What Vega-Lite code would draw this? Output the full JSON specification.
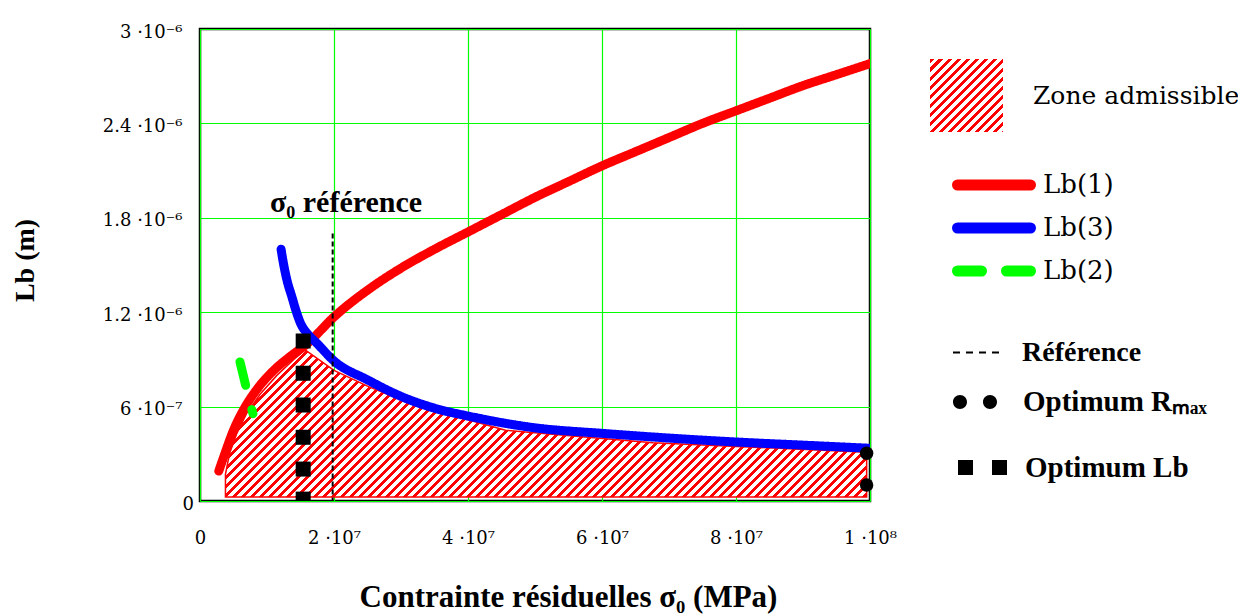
{
  "$schema": "https://vega.github.io/schema/vega-lite/v6.json",
  "width": 670,
  "height": 472,
  "autosize": {"type": "none"},
  "padding": {"left": 200, "top": 29, "right": 368, "bottom": 113},
  "background": "white",
  "config": {
    "font": "Liberation Serif",
    "view": {"stroke": "black", "strokeWidth": 2.5},
    "axis": {
      "labelFont": "DejaVu Serif", "labelFontSize": 18, "labelColor": "black",
      "titleFont": "Liberation Serif", "titleFontWeight": "bold", "titleColor": "black",
      "grid": true, "gridColor": "#00ff00", "gridWidth": 1.2, "gridOpacity": 1,
      "domain": false, "ticks": false, "tickSize": 0, "labelFlush": false, "labelOverlap": false
    },
    "legend": {"labelFont": "DejaVu Serif", "labelColor": "black", "labelLimit": 400, "padding": 0}
  },
  "datasets": {
    "zone": [
      {"s": 3800000, "L": 1.7e-7, "L0": 2.5e-8, "label": "Zone admissible"},
      {"s": 4400000, "L": 3.0e-7, "L0": 2.5e-8, "label": "Zone admissible"},
      {"s": 5500000, "L": 4.3e-7, "L0": 2.5e-8, "label": "Zone admissible"},
      {"s": 7000000, "L": 5.6e-7, "L0": 2.5e-8, "label": "Zone admissible"},
      {"s": 9000000, "L": 6.8e-7, "L0": 2.5e-8, "label": "Zone admissible"},
      {"s": 11500000, "L": 8.0e-7, "L0": 2.5e-8, "label": "Zone admissible"},
      {"s": 14000000, "L": 9.0e-7, "L0": 2.5e-8, "label": "Zone admissible"},
      {"s": 15700000, "L": 9.6e-7, "L0": 2.5e-8, "label": "Zone admissible"},
      {"s": 20000000, "L": 8.3e-7, "L0": 2.5e-8, "label": "Zone admissible"},
      {"s": 25000000, "L": 7.3e-7, "L0": 2.5e-8, "label": "Zone admissible"},
      {"s": 31300000, "L": 6.2e-7, "L0": 2.5e-8, "label": "Zone admissible"},
      {"s": 45600000, "L": 4.5e-7, "L0": 2.5e-8, "label": "Zone admissible"},
      {"s": 67600000, "L": 3.7e-7, "L0": 2.5e-8, "label": "Zone admissible"},
      {"s": 99500000, "L": 3.1e-7, "L0": 2.5e-8, "label": "Zone admissible"}
    ],
    "lines": [
      {"series": "Lb(1)", "s": 2800000, "L": 1.9e-7},
      {"series": "Lb(1)", "s": 3700000, "L": 3.0e-7},
      {"series": "Lb(1)", "s": 5000000, "L": 4.5e-7},
      {"series": "Lb(1)", "s": 6500000, "L": 5.8e-7},
      {"series": "Lb(1)", "s": 8500000, "L": 7.1e-7},
      {"series": "Lb(1)", "s": 11000000, "L": 8.3e-7},
      {"series": "Lb(1)", "s": 13500000, "L": 9.2e-7},
      {"series": "Lb(1)", "s": 16000000, "L": 1.0e-6},
      {"series": "Lb(1)", "s": 20000000, "L": 1.17e-6},
      {"series": "Lb(1)", "s": 25500000, "L": 1.355e-6},
      {"series": "Lb(1)", "s": 30000000, "L": 1.48e-6},
      {"series": "Lb(1)", "s": 35000000, "L": 1.6e-6},
      {"series": "Lb(1)", "s": 40000000, "L": 1.71e-6},
      {"series": "Lb(1)", "s": 45000000, "L": 1.82e-6},
      {"series": "Lb(1)", "s": 50000000, "L": 1.93e-6},
      {"series": "Lb(1)", "s": 55000000, "L": 2.03e-6},
      {"series": "Lb(1)", "s": 60000000, "L": 2.13e-6},
      {"series": "Lb(1)", "s": 65000000, "L": 2.22e-6},
      {"series": "Lb(1)", "s": 70000000, "L": 2.31e-6},
      {"series": "Lb(1)", "s": 75000000, "L": 2.4e-6},
      {"series": "Lb(1)", "s": 80000000, "L": 2.48e-6},
      {"series": "Lb(1)", "s": 85000000, "L": 2.56e-6},
      {"series": "Lb(1)", "s": 90000000, "L": 2.64e-6},
      {"series": "Lb(1)", "s": 95000000, "L": 2.71e-6},
      {"series": "Lb(1)", "s": 100000000, "L": 2.78e-6},
      {"series": "Lb(3)", "s": 12100000, "L": 1.6e-6},
      {"series": "Lb(3)", "s": 12500000, "L": 1.5e-6},
      {"series": "Lb(3)", "s": 13000000, "L": 1.4e-6},
      {"series": "Lb(3)", "s": 13700000, "L": 1.3e-6},
      {"series": "Lb(3)", "s": 14400000, "L": 1.2e-6},
      {"series": "Lb(3)", "s": 15000000, "L": 1.13e-6},
      {"series": "Lb(3)", "s": 16000000, "L": 1.065e-6},
      {"series": "Lb(3)", "s": 17500000, "L": 1.0e-6},
      {"series": "Lb(3)", "s": 20000000, "L": 8.9e-7},
      {"series": "Lb(3)", "s": 25000000, "L": 7.7e-7},
      {"series": "Lb(3)", "s": 30000000, "L": 6.65e-7},
      {"series": "Lb(3)", "s": 35000000, "L": 5.9e-7},
      {"series": "Lb(3)", "s": 40000000, "L": 5.4e-7},
      {"series": "Lb(3)", "s": 50000000, "L": 4.65e-7},
      {"series": "Lb(3)", "s": 60000000, "L": 4.3e-7},
      {"series": "Lb(3)", "s": 70000000, "L": 4.0e-7},
      {"series": "Lb(3)", "s": 80000000, "L": 3.75e-7},
      {"series": "Lb(3)", "s": 90000000, "L": 3.55e-7},
      {"series": "Lb(3)", "s": 100000000, "L": 3.35e-7},
      {"series": "Lb(2)", "s": 5970000, "L": 8.84e-7},
      {"series": "Lb(2)", "s": 6900000, "L": 7.2e-7},
      {"series": "Lb(2)", "s": 7900000, "L": 5.55e-7}
    ],
    "ref": [{"s": 19800000, "L": 1.7e-6, "L0": 0, "label": "Référence"}],
    "note": [{"s": 21800000, "L": 1.894e-6, "t": "σ₀ référence"}],
    "rmax": [
      {"s": 99500000, "L": 3.03e-7, "label": "Optimum Rₘₐₓ"},
      {"s": 99500000, "L": 1.02e-7, "label": "Optimum Rₘₐₓ"}
    ],
    "lbopt": [
      {"s": 15400000, "L": 1.017e-6, "label": "Optimum Lb"},
      {"s": 15400000, "L": 8.12e-7, "label": "Optimum Lb"},
      {"s": 15400000, "L": 6.1e-7, "label": "Optimum Lb"},
      {"s": 15400000, "L": 4.05e-7, "label": "Optimum Lb"},
      {"s": 15400000, "L": 2.03e-7, "label": "Optimum Lb"},
      {"s": 15400000, "L": 1.2e-8, "label": "Optimum Lb"}
    ]
  },
  "resolve": {"scale": {"opacity": "independent"}},
  "encoding": {
    "x": {
      "field": "s", "type": "quantitative",
      "scale": {"domain": [0, 100000000], "nice": false, "zero": false},
      "axis": {
        "title": "Contrainte résiduelles σ₀ (MPa)", "titleFontSize": 31,
        "titleX": 368, "titleY": 96, "titleBaseline": "middle", "titleAlign": "center",
        "values": [0, 20000000, 40000000, 60000000, 80000000, 100000000],
        "labelExpr": "datum.value == 0 ? '0' : datum.value < 30000000 ? '2 ·10⁷' : datum.value < 50000000 ? '4 ·10⁷' : datum.value < 70000000 ? '6 ·10⁷' : datum.value < 90000000 ? '8 ·10⁷' : '1 ·10⁸'",
        "labelPadding": 28, "labelBaseline": "top"
      }
    },
    "y": {
      "field": "L", "type": "quantitative",
      "scale": {"domain": [0, 0.000003], "nice": false, "zero": false},
      "axis": {
        "title": "Lb (m)", "titleFontSize": 28,
        "titleX": -175, "titleY": 231, "titleBaseline": "middle", "titleAlign": "center",
        "values": [0, 6e-7, 1.2e-6, 1.8e-6, 2.4e-6, 3e-6],
        "labelExpr": "datum.value == 0 ? '0' : datum.value < 9e-7 ? '6 ·10⁻⁷' : datum.value < 1.5e-6 ? '1.2 ·10⁻⁶' : datum.value < 2.1e-6 ? '1.8 ·10⁻⁶' : datum.value < 2.7e-6 ? '2.4 ·10⁻⁶' : '3 ·10⁻⁶'",
        "labelPadding": 18, "labelOffset": 3,
        "labelAlign": {"condition": {"test": "datum.value === 0", "value": "left"}, "value": "right"}
      }
    }
  },
  "layer": [
    {
      "data": {"name": "zone"},
      "mark": {
        "type": "area", "stroke": "#ff0000", "strokeWidth": 1.5, "clip": true,
        "fill": {"gradient": "linear", "x1": 0, "y1": 0, "x2": 1.2002, "y2": 0.2752, "stops": [
{"offset":0,"color":"red"},{"offset":0.005,"color":"red"},{"offset":0.005,"color":"white"},{"offset":0.01111,"color":"white"},
{"offset":0.01111,"color":"red"},{"offset":0.01611,"color":"red"},{"offset":0.01611,"color":"white"},{"offset":0.02222,"color":"white"},
{"offset":0.02222,"color":"red"},{"offset":0.02722,"color":"red"},{"offset":0.02722,"color":"white"},{"offset":0.03333,"color":"white"},
{"offset":0.03333,"color":"red"},{"offset":0.03833,"color":"red"},{"offset":0.03833,"color":"white"},{"offset":0.04444,"color":"white"},
{"offset":0.04444,"color":"red"},{"offset":0.04944,"color":"red"},{"offset":0.04944,"color":"white"},{"offset":0.05556,"color":"white"},
{"offset":0.05556,"color":"red"},{"offset":0.06056,"color":"red"},{"offset":0.06056,"color":"white"},{"offset":0.06667,"color":"white"},
{"offset":0.06667,"color":"red"},{"offset":0.07167,"color":"red"},{"offset":0.07167,"color":"white"},{"offset":0.07778,"color":"white"},
{"offset":0.07778,"color":"red"},{"offset":0.08278,"color":"red"},{"offset":0.08278,"color":"white"},{"offset":0.08889,"color":"white"},
{"offset":0.08889,"color":"red"},{"offset":0.09389,"color":"red"},{"offset":0.09389,"color":"white"},{"offset":0.1,"color":"white"},
{"offset":0.1,"color":"red"},{"offset":0.105,"color":"red"},{"offset":0.105,"color":"white"},{"offset":0.11111,"color":"white"},
{"offset":0.11111,"color":"red"},{"offset":0.11611,"color":"red"},{"offset":0.11611,"color":"white"},{"offset":0.12222,"color":"white"},
{"offset":0.12222,"color":"red"},{"offset":0.12722,"color":"red"},{"offset":0.12722,"color":"white"},{"offset":0.13333,"color":"white"},
{"offset":0.13333,"color":"red"},{"offset":0.13833,"color":"red"},{"offset":0.13833,"color":"white"},{"offset":0.14444,"color":"white"},
{"offset":0.14444,"color":"red"},{"offset":0.14944,"color":"red"},{"offset":0.14944,"color":"white"},{"offset":0.15556,"color":"white"},
{"offset":0.15556,"color":"red"},{"offset":0.16056,"color":"red"},{"offset":0.16056,"color":"white"},{"offset":0.16667,"color":"white"},
{"offset":0.16667,"color":"red"},{"offset":0.17167,"color":"red"},{"offset":0.17167,"color":"white"},{"offset":0.17778,"color":"white"},
{"offset":0.17778,"color":"red"},{"offset":0.18278,"color":"red"},{"offset":0.18278,"color":"white"},{"offset":0.18889,"color":"white"},
{"offset":0.18889,"color":"red"},{"offset":0.19389,"color":"red"},{"offset":0.19389,"color":"white"},{"offset":0.2,"color":"white"},
{"offset":0.2,"color":"red"},{"offset":0.205,"color":"red"},{"offset":0.205,"color":"white"},{"offset":0.21111,"color":"white"},
{"offset":0.21111,"color":"red"},{"offset":0.21611,"color":"red"},{"offset":0.21611,"color":"white"},{"offset":0.22222,"color":"white"},
{"offset":0.22222,"color":"red"},{"offset":0.22722,"color":"red"},{"offset":0.22722,"color":"white"},{"offset":0.23333,"color":"white"},
{"offset":0.23333,"color":"red"},{"offset":0.23833,"color":"red"},{"offset":0.23833,"color":"white"},{"offset":0.24444,"color":"white"},
{"offset":0.24444,"color":"red"},{"offset":0.24944,"color":"red"},{"offset":0.24944,"color":"white"},{"offset":0.25556,"color":"white"},
{"offset":0.25556,"color":"red"},{"offset":0.26056,"color":"red"},{"offset":0.26056,"color":"white"},{"offset":0.26667,"color":"white"},
{"offset":0.26667,"color":"red"},{"offset":0.27167,"color":"red"},{"offset":0.27167,"color":"white"},{"offset":0.27778,"color":"white"},
{"offset":0.27778,"color":"red"},{"offset":0.28278,"color":"red"},{"offset":0.28278,"color":"white"},{"offset":0.28889,"color":"white"},
{"offset":0.28889,"color":"red"},{"offset":0.29389,"color":"red"},{"offset":0.29389,"color":"white"},{"offset":0.3,"color":"white"},
{"offset":0.3,"color":"red"},{"offset":0.305,"color":"red"},{"offset":0.305,"color":"white"},{"offset":0.31111,"color":"white"},
{"offset":0.31111,"color":"red"},{"offset":0.31611,"color":"red"},{"offset":0.31611,"color":"white"},{"offset":0.32222,"color":"white"},
{"offset":0.32222,"color":"red"},{"offset":0.32722,"color":"red"},{"offset":0.32722,"color":"white"},{"offset":0.33333,"color":"white"},
{"offset":0.33333,"color":"red"},{"offset":0.33833,"color":"red"},{"offset":0.33833,"color":"white"},{"offset":0.34444,"color":"white"},
{"offset":0.34444,"color":"red"},{"offset":0.34944,"color":"red"},{"offset":0.34944,"color":"white"},{"offset":0.35556,"color":"white"},
{"offset":0.35556,"color":"red"},{"offset":0.36056,"color":"red"},{"offset":0.36056,"color":"white"},{"offset":0.36667,"color":"white"},
{"offset":0.36667,"color":"red"},{"offset":0.37167,"color":"red"},{"offset":0.37167,"color":"white"},{"offset":0.37778,"color":"white"},
{"offset":0.37778,"color":"red"},{"offset":0.38278,"color":"red"},{"offset":0.38278,"color":"white"},{"offset":0.38889,"color":"white"},
{"offset":0.38889,"color":"red"},{"offset":0.39389,"color":"red"},{"offset":0.39389,"color":"white"},{"offset":0.4,"color":"white"},
{"offset":0.4,"color":"red"},{"offset":0.405,"color":"red"},{"offset":0.405,"color":"white"},{"offset":0.41111,"color":"white"},
{"offset":0.41111,"color":"red"},{"offset":0.41611,"color":"red"},{"offset":0.41611,"color":"white"},{"offset":0.42222,"color":"white"},
{"offset":0.42222,"color":"red"},{"offset":0.42722,"color":"red"},{"offset":0.42722,"color":"white"},{"offset":0.43333,"color":"white"},
{"offset":0.43333,"color":"red"},{"offset":0.43833,"color":"red"},{"offset":0.43833,"color":"white"},{"offset":0.44444,"color":"white"},
{"offset":0.44444,"color":"red"},{"offset":0.44944,"color":"red"},{"offset":0.44944,"color":"white"},{"offset":0.45556,"color":"white"},
{"offset":0.45556,"color":"red"},{"offset":0.46056,"color":"red"},{"offset":0.46056,"color":"white"},{"offset":0.46667,"color":"white"},
{"offset":0.46667,"color":"red"},{"offset":0.47167,"color":"red"},{"offset":0.47167,"color":"white"},{"offset":0.47778,"color":"white"},
{"offset":0.47778,"color":"red"},{"offset":0.48278,"color":"red"},{"offset":0.48278,"color":"white"},{"offset":0.48889,"color":"white"},
{"offset":0.48889,"color":"red"},{"offset":0.49389,"color":"red"},{"offset":0.49389,"color":"white"},{"offset":0.5,"color":"white"},
{"offset":0.5,"color":"red"},{"offset":0.505,"color":"red"},{"offset":0.505,"color":"white"},{"offset":0.51111,"color":"white"},
{"offset":0.51111,"color":"red"},{"offset":0.51611,"color":"red"},{"offset":0.51611,"color":"white"},{"offset":0.52222,"color":"white"},
{"offset":0.52222,"color":"red"},{"offset":0.52722,"color":"red"},{"offset":0.52722,"color":"white"},{"offset":0.53333,"color":"white"},
{"offset":0.53333,"color":"red"},{"offset":0.53833,"color":"red"},{"offset":0.53833,"color":"white"},{"offset":0.54444,"color":"white"},
{"offset":0.54444,"color":"red"},{"offset":0.54944,"color":"red"},{"offset":0.54944,"color":"white"},{"offset":0.55556,"color":"white"},
{"offset":0.55556,"color":"red"},{"offset":0.56056,"color":"red"},{"offset":0.56056,"color":"white"},{"offset":0.56667,"color":"white"},
{"offset":0.56667,"color":"red"},{"offset":0.57167,"color":"red"},{"offset":0.57167,"color":"white"},{"offset":0.57778,"color":"white"},
{"offset":0.57778,"color":"red"},{"offset":0.58278,"color":"red"},{"offset":0.58278,"color":"white"},{"offset":0.58889,"color":"white"},
{"offset":0.58889,"color":"red"},{"offset":0.59389,"color":"red"},{"offset":0.59389,"color":"white"},{"offset":0.6,"color":"white"},
{"offset":0.6,"color":"red"},{"offset":0.605,"color":"red"},{"offset":0.605,"color":"white"},{"offset":0.61111,"color":"white"},
{"offset":0.61111,"color":"red"},{"offset":0.61611,"color":"red"},{"offset":0.61611,"color":"white"},{"offset":0.62222,"color":"white"},
{"offset":0.62222,"color":"red"},{"offset":0.62722,"color":"red"},{"offset":0.62722,"color":"white"},{"offset":0.63333,"color":"white"},
{"offset":0.63333,"color":"red"},{"offset":0.63833,"color":"red"},{"offset":0.63833,"color":"white"},{"offset":0.64444,"color":"white"},
{"offset":0.64444,"color":"red"},{"offset":0.64944,"color":"red"},{"offset":0.64944,"color":"white"},{"offset":0.65556,"color":"white"},
{"offset":0.65556,"color":"red"},{"offset":0.66056,"color":"red"},{"offset":0.66056,"color":"white"},{"offset":0.66667,"color":"white"},
{"offset":0.66667,"color":"red"},{"offset":0.67167,"color":"red"},{"offset":0.67167,"color":"white"},{"offset":0.67778,"color":"white"},
{"offset":0.67778,"color":"red"},{"offset":0.68278,"color":"red"},{"offset":0.68278,"color":"white"},{"offset":0.68889,"color":"white"},
{"offset":0.68889,"color":"red"},{"offset":0.69389,"color":"red"},{"offset":0.69389,"color":"white"},{"offset":0.7,"color":"white"},
{"offset":0.7,"color":"red"},{"offset":0.705,"color":"red"},{"offset":0.705,"color":"white"},{"offset":0.71111,"color":"white"},
{"offset":0.71111,"color":"red"},{"offset":0.71611,"color":"red"},{"offset":0.71611,"color":"white"},{"offset":0.72222,"color":"white"},
{"offset":0.72222,"color":"red"},{"offset":0.72722,"color":"red"},{"offset":0.72722,"color":"white"},{"offset":0.73333,"color":"white"},
{"offset":0.73333,"color":"red"},{"offset":0.73833,"color":"red"},{"offset":0.73833,"color":"white"},{"offset":0.74444,"color":"white"},
{"offset":0.74444,"color":"red"},{"offset":0.74944,"color":"red"},{"offset":0.74944,"color":"white"},{"offset":0.75556,"color":"white"},
{"offset":0.75556,"color":"red"},{"offset":0.76056,"color":"red"},{"offset":0.76056,"color":"white"},{"offset":0.76667,"color":"white"},
{"offset":0.76667,"color":"red"},{"offset":0.77167,"color":"red"},{"offset":0.77167,"color":"white"},{"offset":0.77778,"color":"white"},
{"offset":0.77778,"color":"red"},{"offset":0.78278,"color":"red"},{"offset":0.78278,"color":"white"},{"offset":0.78889,"color":"white"},
{"offset":0.78889,"color":"red"},{"offset":0.79389,"color":"red"},{"offset":0.79389,"color":"white"},{"offset":0.8,"color":"white"},
{"offset":0.8,"color":"red"},{"offset":0.805,"color":"red"},{"offset":0.805,"color":"white"},{"offset":0.81111,"color":"white"},
{"offset":0.81111,"color":"red"},{"offset":0.81611,"color":"red"},{"offset":0.81611,"color":"white"},{"offset":0.82222,"color":"white"},
{"offset":0.82222,"color":"red"},{"offset":0.82722,"color":"red"},{"offset":0.82722,"color":"white"},{"offset":0.83333,"color":"white"},
{"offset":0.83333,"color":"red"},{"offset":0.83833,"color":"red"},{"offset":0.83833,"color":"white"},{"offset":0.84444,"color":"white"},
{"offset":0.84444,"color":"red"},{"offset":0.84944,"color":"red"},{"offset":0.84944,"color":"white"},{"offset":0.85556,"color":"white"},
{"offset":0.85556,"color":"red"},{"offset":0.86056,"color":"red"},{"offset":0.86056,"color":"white"},{"offset":0.86667,"color":"white"},
{"offset":0.86667,"color":"red"},{"offset":0.87167,"color":"red"},{"offset":0.87167,"color":"white"},{"offset":0.87778,"color":"white"},
{"offset":0.87778,"color":"red"},{"offset":0.88278,"color":"red"},{"offset":0.88278,"color":"white"},{"offset":0.88889,"color":"white"},
{"offset":0.88889,"color":"red"},{"offset":0.89389,"color":"red"},{"offset":0.89389,"color":"white"},{"offset":0.9,"color":"white"},
{"offset":0.9,"color":"red"},{"offset":0.905,"color":"red"},{"offset":0.905,"color":"white"},{"offset":0.91111,"color":"white"},
{"offset":0.91111,"color":"red"},{"offset":0.91611,"color":"red"},{"offset":0.91611,"color":"white"},{"offset":0.92222,"color":"white"},
{"offset":0.92222,"color":"red"},{"offset":0.92722,"color":"red"},{"offset":0.92722,"color":"white"},{"offset":0.93333,"color":"white"},
{"offset":0.93333,"color":"red"},{"offset":0.93833,"color":"red"},{"offset":0.93833,"color":"white"},{"offset":0.94444,"color":"white"},
{"offset":0.94444,"color":"red"},{"offset":0.94944,"color":"red"},{"offset":0.94944,"color":"white"},{"offset":0.95556,"color":"white"},
{"offset":0.95556,"color":"red"},{"offset":0.96056,"color":"red"},{"offset":0.96056,"color":"white"},{"offset":0.96667,"color":"white"},
{"offset":0.96667,"color":"red"},{"offset":0.97167,"color":"red"},{"offset":0.97167,"color":"white"},{"offset":0.97778,"color":"white"},
{"offset":0.97778,"color":"red"},{"offset":0.98278,"color":"red"},{"offset":0.98278,"color":"white"},{"offset":0.98889,"color":"white"},
{"offset":0.98889,"color":"red"},{"offset":0.99389,"color":"red"},{"offset":0.99389,"color":"white"},{"offset":1,"color":"white"}
        ]}
      },
      "encoding": {"y2": {"field": "L0"}}
    },
    {
      "data": {"name": "zone"},
      "transform": [{"filter": "datum.s == 3800000"}],
      "mark": {
        "type": "area", "strokeWidth": 0,
        "fill": {"gradient": "linear", "x1": 0, "y1": 0, "x2": 1.048, "y2": 1.048, "stops": [
{"offset":0,"color":"red"},{"offset":0.02647,"color":"red"},{"offset":0.02647,"color":"white"},{"offset":0.05882,"color":"white"},
{"offset":0.05882,"color":"red"},{"offset":0.08529,"color":"red"},{"offset":0.08529,"color":"white"},{"offset":0.11765,"color":"white"},
{"offset":0.11765,"color":"red"},{"offset":0.14412,"color":"red"},{"offset":0.14412,"color":"white"},{"offset":0.17647,"color":"white"},
{"offset":0.17647,"color":"red"},{"offset":0.20294,"color":"red"},{"offset":0.20294,"color":"white"},{"offset":0.23529,"color":"white"},
{"offset":0.23529,"color":"red"},{"offset":0.26176,"color":"red"},{"offset":0.26176,"color":"white"},{"offset":0.29412,"color":"white"},
{"offset":0.29412,"color":"red"},{"offset":0.32059,"color":"red"},{"offset":0.32059,"color":"white"},{"offset":0.35294,"color":"white"},
{"offset":0.35294,"color":"red"},{"offset":0.37941,"color":"red"},{"offset":0.37941,"color":"white"},{"offset":0.41176,"color":"white"},
{"offset":0.41176,"color":"red"},{"offset":0.43823,"color":"red"},{"offset":0.43823,"color":"white"},{"offset":0.47059,"color":"white"},
{"offset":0.47059,"color":"red"},{"offset":0.49706,"color":"red"},{"offset":0.49706,"color":"white"},{"offset":0.52941,"color":"white"},
{"offset":0.52941,"color":"red"},{"offset":0.55588,"color":"red"},{"offset":0.55588,"color":"white"},{"offset":0.58824,"color":"white"},
{"offset":0.58824,"color":"red"},{"offset":0.61471,"color":"red"},{"offset":0.61471,"color":"white"},{"offset":0.64706,"color":"white"},
{"offset":0.64706,"color":"red"},{"offset":0.67353,"color":"red"},{"offset":0.67353,"color":"white"},{"offset":0.70588,"color":"white"},
{"offset":0.70588,"color":"red"},{"offset":0.73235,"color":"red"},{"offset":0.73235,"color":"white"},{"offset":0.76471,"color":"white"},
{"offset":0.76471,"color":"red"},{"offset":0.79118,"color":"red"},{"offset":0.79118,"color":"white"},{"offset":0.82353,"color":"white"},
{"offset":0.82353,"color":"red"},{"offset":0.85,"color":"red"},{"offset":0.85,"color":"white"},{"offset":0.88235,"color":"white"},
{"offset":0.88235,"color":"red"},{"offset":0.90882,"color":"red"},{"offset":0.90882,"color":"white"},{"offset":0.94118,"color":"white"},
{"offset":0.94118,"color":"red"},{"offset":0.96765,"color":"red"},{"offset":0.96765,"color":"white"},{"offset":1,"color":"white"}
        ]}
      },
      "encoding": {
        "y2": {"field": "L0"},
        "opacity": {
          "field": "label", "type": "nominal", "scale": {"range": [1]},
          "legend": {
            "title": null, "orient": "none", "legendX": 730, "legendY": 30, "padding": 0,
            "symbolType": "square", "symbolSize": 5329, "symbolStrokeWidth": 0,
            "labelFont": "DejaVu Serif", "labelFontSize": 25, "labelOffset": 30
          }
        }
      }
    },
    {
      "data": {"name": "lines"},
      "mark": {"type": "line", "strokeWidth": 9, "strokeCap": "round", "strokeJoin": "round", "interpolate": "monotone", "clip": true},
      "encoding": {
        "stroke": {
          "field": "series", "type": "nominal",
          "scale": {"domain": ["Lb(1)", "Lb(3)", "Lb(2)"], "range": ["#ff0000", "#0000ff", "#00ff00"]},
          "legend": {
            "title": null, "orient": "none", "legendX": 752, "legendY": 138, "padding": 0,
            "symbolType": "stroke", "symbolSize": 5329, "symbolStrokeWidth": 11,
            "labelFont": "DejaVu Serif", "labelFontSize": 26, "labelOffset": 7, "clipHeight": 36, "rowPadding": 7,
            "encode": {"symbols": {"update": {"strokeCap": {"value": "round"}}}}
          }
        },
        "strokeDash": {
          "field": "series", "type": "nominal",
          "scale": {"domain": ["Lb(1)", "Lb(3)", "Lb(2)"], "range": [[1, 0], [1, 0], [24, 25]]},
          "legend": {
            "title": null, "orient": "none", "legendX": 752, "legendY": 138, "padding": 0,
            "symbolType": "stroke", "symbolSize": 5329, "symbolStrokeWidth": 11,
            "labelFont": "DejaVu Serif", "labelFontSize": 26, "labelOffset": 7, "clipHeight": 36, "rowPadding": 7,
            "encode": {"symbols": {"update": {"strokeCap": {"value": "round"}}}}
          }
        }
      }
    },
    {
      "data": {"name": "ref"},
      "mark": {"type": "rule", "color": "black", "strokeWidth": 2, "strokeDash": [5, 3]},
      "encoding": {
        "y2": {"field": "L0"},
        "opacity": {
          "field": "label", "type": "nominal", "scale": {"range": [1]},
          "legend": {
            "title": null, "orient": "none", "legendX": 752, "legendY": 299, "padding": 0,
            "symbolType": "M-1,0H1", "symbolSize": 2209, "symbolStrokeWidth": 2,
            "symbolStrokeColor": "black", "symbolFillColor": "transparent", "symbolDash": [7, 6],
            "labelFont": "Liberation Serif", "labelFontSize": 28, "labelFontWeight": "bold", "labelOffset": 21
          }
        }
      }
    },
    {
      "data": {"name": "note"},
      "mark": {"type": "text", "font": "Liberation Serif", "fontSize": 30, "fontWeight": "bold", "color": "black", "align": "center", "baseline": "middle"},
      "encoding": {"text": {"field": "t"}}
    },
    {
      "data": {"name": "lbopt"},
      "mark": {"type": "point", "shape": "square", "filled": true, "color": "black", "size": 225, "opacity": 1, "clip": true},
      "encoding": {
        "opacity": {
          "field": "label", "type": "nominal", "scale": {"range": [1]},
          "legend": {
            "title": null, "orient": "none", "legendX": 758, "legendY": 414, "padding": 0,
            "symbolType": "M-1,-0.306H-0.388V0.306H-1ZM0.388,-0.306H1V0.306H0.388Z", "symbolSize": 2401,
            "symbolStrokeWidth": 0, "symbolFillColor": "black",
            "labelFont": "Liberation Serif", "labelFontSize": 29, "labelFontWeight": "bold", "labelOffset": 18
          }
        }
      }
    },
    {
      "data": {"name": "rmax"},
      "mark": {"type": "point", "shape": "circle", "filled": true, "color": "black", "size": 180, "opacity": 1},
      "encoding": {
        "opacity": {
          "field": "label", "type": "nominal", "scale": {"range": [1]},
          "legend": {
            "title": null, "orient": "none", "legendX": 753, "legendY": 351, "padding": 0,
            "symbolType": "M-1,0A0.318,0.318,0,1,0,-0.364,0A0.318,0.318,0,1,0,-1,0ZM0.364,0A0.318,0.318,0,1,0,1,0A0.318,0.318,0,1,0,0.364,0Z", "symbolSize": 1936,
            "symbolStrokeWidth": 0, "symbolFillColor": "black",
            "labelFont": "Liberation Serif", "labelFontSize": 29, "labelFontWeight": "bold", "labelOffset": 26
          }
        }
      }
    }
  ]
}
